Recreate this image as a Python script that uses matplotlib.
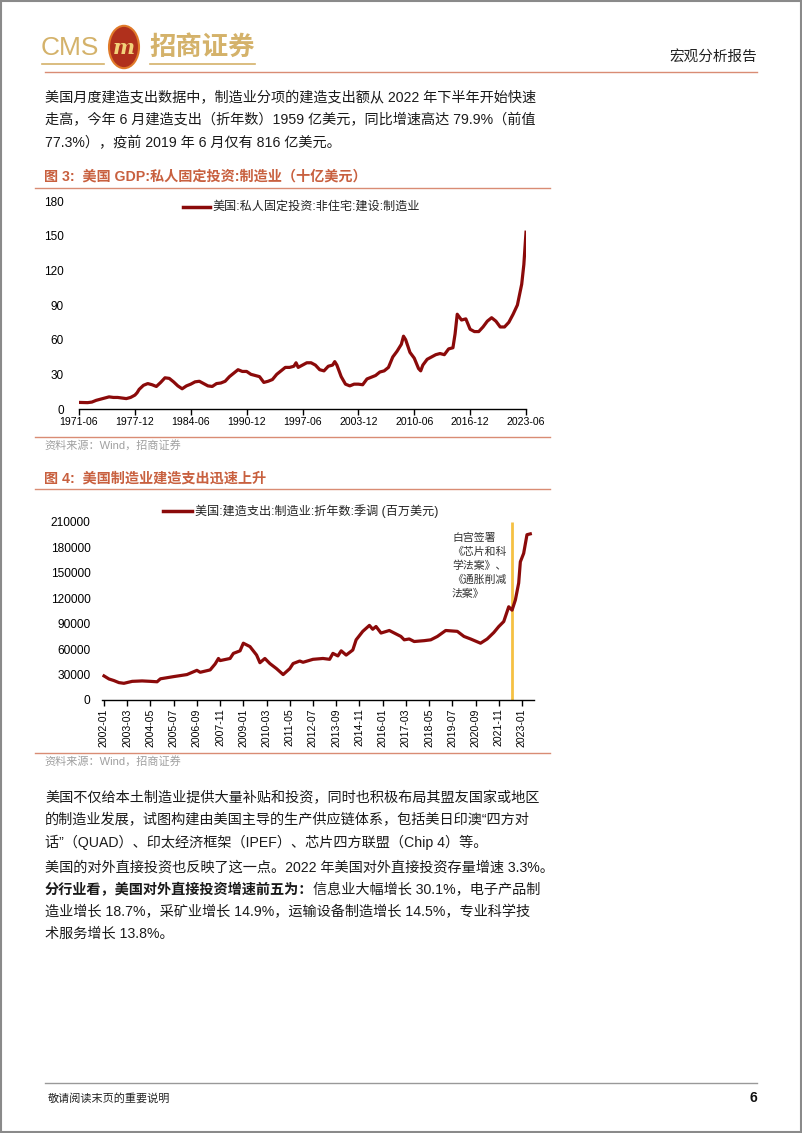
import matplotlib
matplotlib.use('Agg')
import matplotlib.pyplot as plt
from matplotlib.lines import Line2D
from matplotlib.patches import Rectangle, Circle

# ---------------- data ----------------
gdp_dates = ['1971-06', '1972-06', '1972-12', '1973-06', '1973-12', '1974-06', '1974-12', '1975-06',
             '1975-12', '1976-06', '1976-12', '1977-06', '1977-12', '1978-03', '1978-06', '1978-12',
             '1979-06', '1979-12', '1980-06', '1980-12', '1981-06', '1981-12', '1982-06', '1982-12',
             '1983-06', '1983-12', '1984-06', '1984-12', '1985-06', '1985-12', '1986-06', '1986-12',
             '1987-06', '1987-12', '1988-06', '1988-12', '1989-06', '1989-12', '1990-06', '1990-12',
             '1991-06', '1991-12', '1992-06', '1992-12', '1993-06', '1993-12', '1994-06', '1994-12',
             '1995-06', '1995-12', '1996-06', '1996-09', '1996-12', '1997-06', '1997-12', '1998-06',
             '1998-12', '1999-06', '1999-12', '2000-06', '2000-12', '2001-03', '2001-06', '2001-12',
             '2002-06', '2002-12', '2003-06', '2003-12', '2004-06', '2004-12', '2005-06', '2005-12',
             '2006-06', '2006-12', '2007-06', '2007-12', '2008-06', '2008-12', '2009-03', '2009-06',
             '2009-12', '2010-06', '2010-12', '2011-03', '2011-06', '2011-12', '2012-06', '2012-12',
             '2013-06', '2013-12', '2014-06', '2014-12', '2015-03', '2015-06', '2015-12', '2016-06',
             '2016-12', '2017-06', '2017-12', '2018-06', '2018-12', '2019-06', '2019-12', '2020-06',
             '2020-12', '2021-06', '2021-12', '2022-06', '2022-12', '2023-03', '2023-06']
gdp_values = [5.7, 5.5, 6.0, 7.5, 8.5, 9.5, 10.5, 10.0,
              10.0, 9.5, 9.0, 10.0, 12.0, 14.0, 17.0, 20.5,
              22.0, 21.0, 19.5, 23.0, 27.0, 26.5, 23.5, 20.0,
              17.5, 20.0, 21.5, 23.5, 24.0, 22.0, 20.0, 19.5,
              22.0, 22.5, 24.0, 28.0, 31.0, 34.0, 32.5, 32.5,
              30.0, 29.0, 28.0, 23.0, 24.0, 25.5, 30.0, 33.0,
              36.0, 36.0, 37.0, 40.0, 36.0, 38.0, 40.0, 40.0,
              38.0, 34.0, 33.0, 37.0, 38.0, 41.0, 38.0, 28.0,
              21.5, 20.0, 21.5, 21.5, 21.0, 26.0, 27.5, 29.0,
              32.0, 33.0, 36.0, 45.0, 50.0, 56.0, 63.0, 60.0,
              49.0, 44.0, 35.0, 33.0, 38.0, 43.0, 45.0, 47.0,
              48.0, 47.0, 52.0, 53.0, 65.0, 82.0, 77.0, 78.0,
              69.0, 67.0, 67.0, 71.0, 76.0, 79.0, 76.0, 71.0,
              71.0, 75.0, 82.0, 90.0, 108.0, 125.0, 153.0]
gdp_ticklabels = ['1971-06', '1977-12', '1984-06', '1990-12', '1997-06',
                  '2003-12', '2010-06', '2016-12', '2023-06']
gdp_yticks = [0, 30, 60, 90, 120, 150, 180]

cons_dates = ['2002-01', '2002-04', '2002-07', '2002-10', '2003-01', '2003-06', '2003-12', '2004-05',
              '2004-09', '2004-11', '2005-07', '2006-03', '2006-09', '2006-11', '2007-05', '2007-08',
              '2007-10', '2007-11', '2008-05', '2008-07', '2008-11', '2009-01', '2009-05', '2009-09',
              '2009-11', '2010-02', '2010-05', '2010-09', '2011-01', '2011-05', '2011-07', '2011-11',
              '2012-01', '2012-07', '2013-01', '2013-05', '2013-07', '2013-10', '2013-12', '2014-03',
              '2014-07', '2014-09', '2015-01', '2015-05', '2015-07', '2015-09', '2015-12', '2016-05',
              '2016-10', '2016-12', '2017-02', '2017-05', '2017-08', '2018-02', '2018-06', '2018-10',
              '2019-03', '2019-10', '2020-02', '2020-06', '2020-12', '2021-04', '2021-08', '2021-11',
              '2022-02', '2022-05', '2022-07', '2022-09', '2022-11', '2022-12', '2023-02', '2023-04',
              '2023-06']
cons_values = [28400, 24800, 22900, 20500, 19700, 22000, 22500, 22000,
               21500, 25000, 27600, 30000, 35000, 32700, 35500, 42500,
               49000, 46500, 49000, 55000, 58000, 67000, 63000, 53000,
               44000, 49000, 43000, 37000, 30000, 37000, 43000, 46000,
               44500, 48000, 49000, 48000, 55000, 52000, 58000, 53000,
               59000, 71000, 81000, 88000, 83500, 86700, 79000, 82000,
               77000, 75000, 71000, 72000, 69000, 70000, 71000, 75000,
               82000, 81000, 75000, 72000, 67000, 72000, 79600, 86700,
               92600, 110000, 106000, 118000, 138000, 163000, 173000, 195000,
               196000]
cons_ticklabels = ['2002-01', '2003-03', '2004-05', '2005-07', '2006-09', '2007-11', '2009-01',
                   '2010-03', '2011-05', '2012-07', '2013-09', '2014-11', '2016-01', '2017-03',
                   '2018-05', '2019-07', '2020-09', '2021-11', '2023-01']
cons_yticks = [0, 30000, 60000, 90000, 120000, 150000, 180000, 210000]
event_date = '2022-07'

# ---------------- page helpers ----------------
W, H = 802, 1133
fig = plt.figure(figsize=(W / 100, H / 100), dpi=100)
FONT = ['Liberation Sans', 'Noto Sans CJK SC']
plt.rcParams['font.family'] = FONT


def fx(x):
    return x / W


def fy(y):
    return 1 - y / H


def hline(y, x0, x1, color, lw=1.0):
    fig.add_artist(Line2D([fx(x0), fx(x1)], [fy(y), fy(y)], color=color, lw=lw,
                          transform=fig.transFigure))


def mindex(s, base_y, base_m):
    y, m = s.split('-')
    return (int(y) - base_y) * 12 + (int(m) - base_m)


GOLD = '#D4B26A'
TITLE_C = '#C8603F'
RULE_C = '#D98C74'
BODY_C = '#1a1a1a'
LINE_C = '#8B0A0A'
FS = 10.2

# page border
fig.add_artist(Rectangle((0.001, 0.001), 0.998, 0.998, transform=fig.transFigure,
                         fill=False, edgecolor='#8a8a8a', lw=1.5))

# ---------------- header ----------------
fig.text(fx(41), fy(48), 'CMS', fontsize=19, color=GOLD, va='center', ha='left',
         family=['Liberation Sans'])
fig.add_artist(Circle((fx(124), fy(47)), 15 / W, transform=fig.transFigure,
                      facecolor='#B0301C', edgecolor='#E07A2A', lw=1.5))
fig.text(fx(124), fy(48), 'm', fontsize=15, color='#F2D27A', fontweight='bold',
         fontstyle='italic', ha='center', va='center', family=['DejaVu Serif'])
fig.text(fx(149), fy(47), '招商证券', fontsize=19, color=GOLD, fontweight='bold',
         va='center', ha='left', family=['Noto Sans CJK SC'])
hline(64, 42, 104, GOLD, 1.2)
hline(64, 150, 255, GOLD, 1.2)
fig.text(fx(757), fy(57), '宏观分析报告', fontsize=10.5, color='#222222', ha='right',
         va='center')
hline(72, 45, 757, RULE_C, 1.0)

# ---------------- paragraph 1 ----------------
para1 = ['美国月度建造支出数据中，制造业分项的建造支出额从 2022 年下半年开始快速',
         '走高，今年 6 月建造支出（折年数）1959 亿美元，同比增速高达 79.9%（前值',
         '77.3%），疫前 2019 年 6 月仅有 816 亿美元。']
for i, s in enumerate(para1):
    fig.text(fx(45), fy(98 + 22.5 * i), s, fontsize=FS, color=BODY_C, va='center')

# ---------------- figure 3 ----------------
fig.text(fx(44), fy(177), '图 3:  美国 GDP:私人固定投资:制造业（十亿美元）', fontsize=10.2,
         color=TITLE_C, fontweight='bold', va='center')
hline(188, 35, 550, RULE_C, 1.0)

ax1 = fig.add_axes([fx(79), fy(409), (526 - 79) / W, (409 - 201) / H])
gx = [mindex(d, 1971, 6) for d in gdp_dates]
ax1.plot(gx, gdp_values, color=LINE_C, lw=2.3, solid_joinstyle='round')
ax1.set_xlim(0, 624)
ax1.set_ylim(0, 180)
ax1.set_xticks([mindex(t, 1971, 6) for t in gdp_ticklabels])
ax1.set_xticklabels(gdp_ticklabels, fontsize=7.6)
ax1.set_yticks(gdp_yticks)
ax1.set_yticklabels([str(v) for v in gdp_yticks], fontsize=8.5)
for sp in ['left', 'right', 'top']:
    ax1.spines[sp].set_visible(False)
ax1.spines['bottom'].set_linewidth(1.0)
ax1.tick_params(axis='y', length=0, pad=11)
ax1.tick_params(axis='x', length=4, width=1, pad=1.5, direction='out')
ax1.patch.set_alpha(0)

fig.add_artist(Line2D([fx(183), fx(210)], [fy(207), fy(207)], color=LINE_C, lw=2.5,
                      transform=fig.transFigure))
fig.text(fx(212), fy(207), '美国:私人固定投资:非住宅:建设:制造业', fontsize=8.7,
         color='#222222', va='center')

hline(437, 35, 550, RULE_C, 1.0)
fig.text(fx(44), fy(445), '资料来源：Wind，招商证券', fontsize=8, color='#a0a0a0', va='center')

# ---------------- figure 4 ----------------
fig.text(fx(44), fy(479), '图 4:  美国制造业建造支出迅速上升', fontsize=10.2,
         color=TITLE_C, fontweight='bold', va='center')
hline(489, 35, 550, RULE_C, 1.0)

ppm = (522 - 104) / 252.0
x_left = 104 - 1.5 * ppm
x_right = 104 + 259 * ppm
ax2 = fig.add_axes([fx(x_left), fy(700), (x_right - x_left) / W, (700 - 522) / H])
cx = [mindex(d, 2002, 1) for d in cons_dates]
ev = mindex(event_date, 2002, 1)
ax2.vlines(ev, 0, 210000, color='#F5C143', lw=2.0, zorder=1)
ax2.plot(cx, cons_values, color=LINE_C, lw=2.3, solid_joinstyle='round', zorder=2)
ax2.set_xlim(-1.5, 259)
ax2.set_ylim(0, 210000)
ax2.set_xticks([mindex(t, 2002, 1) for t in cons_ticklabels])
ax2.set_xticklabels(cons_ticklabels, fontsize=7.6, rotation=90)
ax2.set_yticks(cons_yticks)
ax2.set_yticklabels([str(v) for v in cons_yticks], fontsize=8.6)
for sp in ['left', 'right', 'top']:
    ax2.spines[sp].set_visible(False)
ax2.spines['bottom'].set_linewidth(1.0)
ax2.tick_params(axis='y', length=0, pad=8)
ax2.tick_params(axis='x', length=4, width=1, pad=2, direction='out')
ax2.patch.set_alpha(0)

fig.add_artist(Line2D([fx(163), fx(192)], [fy(511), fy(511)], color=LINE_C, lw=2.5,
                      transform=fig.transFigure))
fig.text(fx(195), fy(511), '美国:建造支出:制造业:折年数:季调 (百万美元)', fontsize=8.7,
         color='#222222', va='center')

note = ['白宫签署', '《芯片和科', '学法案》、', '《通胀削减', '法案》']
for i, s in enumerate(note):
    fig.text(fx(452), fy(538 + 14 * i), s, fontsize=7.8, color='#333333', va='center')

hline(753, 35, 550, RULE_C, 1.0)
fig.text(fx(44), fy(761), '资料来源：Wind，招商证券', fontsize=8, color='#a0a0a0', va='center')

# ---------------- paragraphs 2 & 3 ----------------
para2 = ['美国不仅给本土制造业提供大量补贴和投资，同时也积极布局其盟友国家或地区',
         '的制造业发展，试图构建由美国主导的生产供应链体系，包括美日印澳“四方对',
         '话”（QUAD）、印太经济框架（IPEF）、芯片四方联盟（Chip 4）等。']
for i, s in enumerate(para2):
    fig.text(fx(45), fy(798 + 22 * i), s, fontsize=FS, color=BODY_C, va='center')

para3_first = '美国的对外直接投资也反映了这一点。2022 年美国对外直接投资存量增速 3.3%。'
para3_bold = '分行业看，美国对外直接投资增速前五为：'
para3_rest = ['信息业大幅增长 30.1%，电子产品制',
              '造业增长 18.7%，采矿业增长 14.9%，运输设备制造增长 14.5%，专业科学技',
              '术服务增长 13.8%。']
fig.text(fx(45), fy(868), para3_first, fontsize=FS, color=BODY_C, va='center')
tb = fig.text(fx(45), fy(890), para3_bold, fontsize=FS, color=BODY_C, va='center',
              fontweight='bold')
r = fig.canvas.get_renderer()
bb = tb.get_window_extent(renderer=r)
fig.text(bb.x1 / W, fy(890), para3_rest[0], fontsize=FS, color=BODY_C, va='center')
fig.text(fx(45), fy(912), para3_rest[1], fontsize=FS, color=BODY_C, va='center')
fig.text(fx(45), fy(934), para3_rest[2], fontsize=FS, color=BODY_C, va='center')

# ---------------- footer ----------------
hline(1083, 45, 757, '#999999', 1.0)
fig.text(fx(48), fy(1098), '敬请阅读末页的重要说明', fontsize=8, color='#222222', va='center')
fig.text(fx(757), fy(1098), '6', fontsize=10, color='#111111', va='center', ha='right',
         fontweight='bold')

fig.savefig('out.png', dpi=100)
